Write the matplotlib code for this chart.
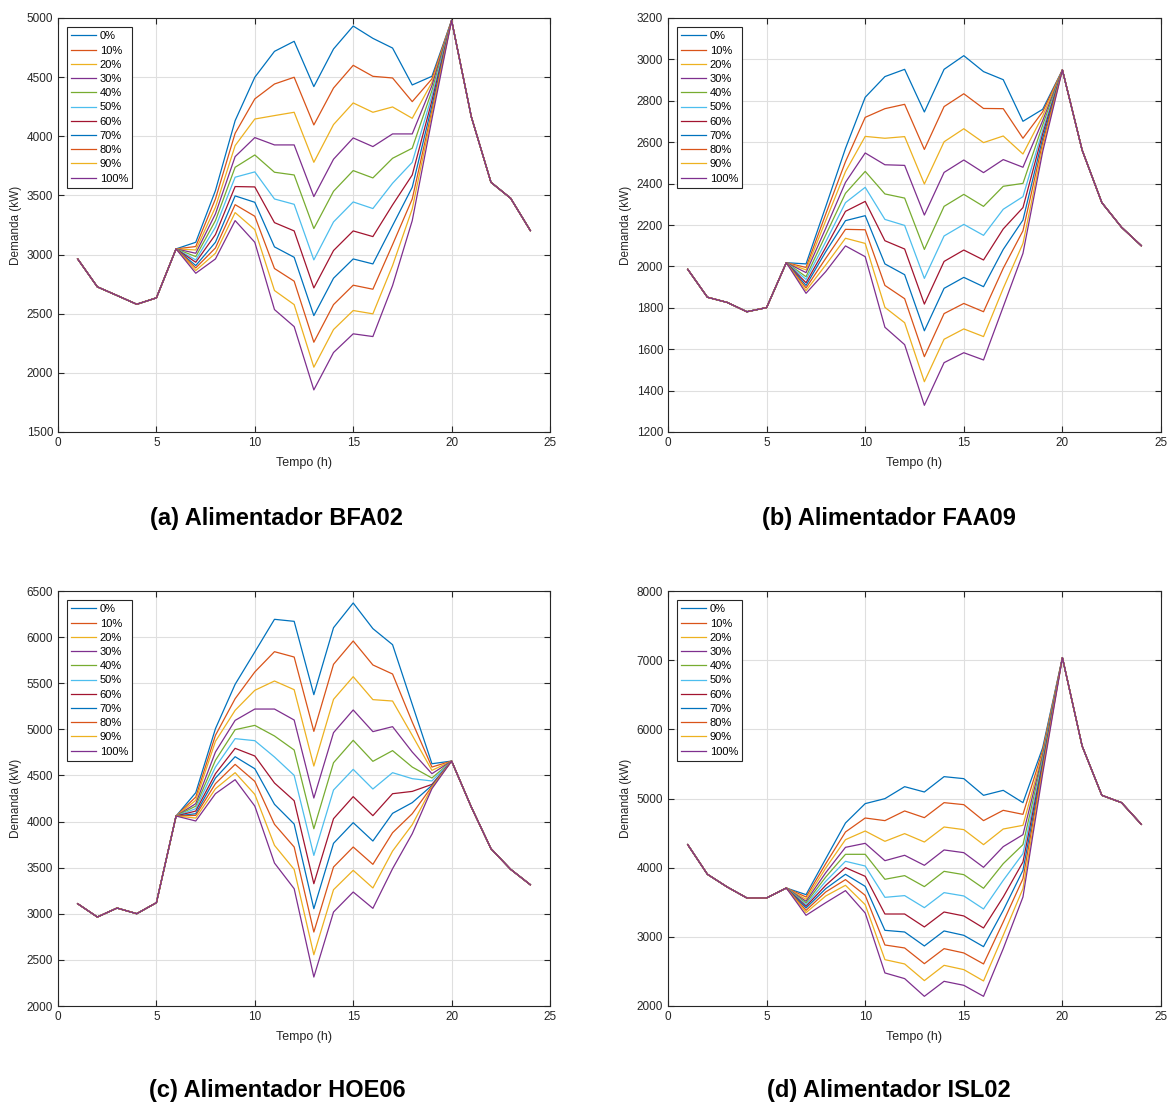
import numpy as np
import matplotlib
matplotlib.use('Agg')
from matplotlib import pyplot as plt

plt.rcParams['font.family'] = ['Liberation Sans', 'DejaVu Sans']

hours = list(range(1, 25))
levels = ['0%', '10%', '20%', '30%', '40%', '50%', '60%', '70%', '80%', '90%', '100%']
colors = ['#0072BD', '#D95319', '#EDB120', '#7E2F8E', '#77AC30', '#4DBEEE',
          '#A2142F', '#0072BD', '#D95319', '#EDB120', '#7E2F8E']

# hours 1-6 and 20-24 are the same for every level, hours 7-19 change
bfa02_head = [2963, 2727, 2654, 2580, 2634, 3048]
bfa02_tail = [4980, 4166, 3611, 3476, 3203]
bfa02_mid = [
    [3104, 3541, 4132, 4499, 4718, 4803, 4420, 4738, 4932, 4828, 4746, 4434, 4507],
    [3068, 3470, 4025, 4316, 4442, 4499, 4096, 4408, 4600, 4507, 4493, 4293, 4485],
    [3039, 3400, 3921, 4146, 4175, 4203, 3780, 4099, 4282, 4203, 4248, 4152, 4456],
    [3011, 3344, 3828, 3989, 3927, 3927, 3490, 3806, 3986, 3913, 4020, 4020, 4428],
    [2983, 3287, 3738, 3842, 3696, 3673, 3220, 3535, 3710, 3648, 3814, 3899, 4386],
    [2955, 3231, 3654, 3699, 3470, 3425, 2955, 3276, 3445, 3389, 3603, 3780, 4344],
    [2935, 3169, 3575, 3572, 3270, 3200, 2718, 3034, 3200, 3152, 3420, 3673, 4301],
    [2907, 3104, 3496, 3442, 3065, 2977, 2484, 2800, 2963, 2921, 3245, 3569, 4259],
    [2887, 3056, 3422, 3324, 2882, 2775, 2259, 2577, 2741, 2707, 3084, 3470, 4217],
    [2865, 3011, 3355, 3211, 2696, 2577, 2048, 2366, 2527, 2499, 2907, 3386, 4189],
    [2842, 2963, 3287, 3104, 2535, 2391, 1856, 2172, 2330, 2307, 2738, 3287, 4146],
]

faa09_head = [1986, 1851, 1826, 1781, 1801, 2018]
faa09_tail = [2949, 2562, 2308, 2189, 2100]
faa09_mid = [
    [2012, 2289, 2570, 2817, 2917, 2952, 2746, 2952, 3018, 2941, 2902, 2701, 2759],
    [1995, 2253, 2506, 2720, 2762, 2783, 2565, 2772, 2834, 2763, 2762, 2619, 2747],
    [1983, 2221, 2458, 2628, 2619, 2627, 2398, 2602, 2665, 2598, 2630, 2543, 2727],
    [1970, 2184, 2406, 2548, 2491, 2488, 2248, 2454, 2514, 2453, 2516, 2479, 2704],
    [1950, 2152, 2353, 2459, 2350, 2330, 2082, 2290, 2348, 2290, 2387, 2401, 2683],
    [1937, 2119, 2308, 2382, 2227, 2198, 1942, 2147, 2203, 2150, 2276, 2337, 2659],
    [1921, 2092, 2266, 2314, 2124, 2084, 1818, 2024, 2079, 2031, 2181, 2284, 2640],
    [1908, 2071, 2221, 2245, 2012, 1960, 1689, 1894, 1947, 1902, 2082, 2224, 2619],
    [1896, 2039, 2179, 2177, 1908, 1844, 1564, 1772, 1821, 1781, 1991, 2172, 2598],
    [1883, 2007, 2136, 2111, 1802, 1728, 1443, 1648, 1698, 1661, 1894, 2111, 2575],
    [1870, 1975, 2099, 2047, 1706, 1622, 1329, 1535, 1583, 1548, 1805, 2063, 2554],
]

hoe06_head = [3109, 2965, 3062, 3001, 3120, 4060]
hoe06_tail = [4656, 4158, 3706, 3482, 3315]
hoe06_mid = [
    [4313, 5007, 5488, 5839, 6193, 6171, 5376, 6102, 6370, 6092, 5918, 5271, 4627],
    [4266, 4935, 5332, 5622, 5842, 5784, 4978, 5705, 5958, 5698, 5600, 5079, 4591],
    [4230, 4870, 5206, 5423, 5524, 5430, 4602, 5325, 5571, 5322, 5307, 4935, 4555],
    [4194, 4754, 5097, 5220, 5220, 5101, 4255, 4964, 5210, 4975, 5029, 4754, 4519],
    [4168, 4664, 4996, 5043, 4928, 4776, 3922, 4638, 4881, 4653, 4769, 4591, 4472],
    [4140, 4591, 4899, 4877, 4700, 4501, 3633, 4342, 4566, 4353, 4530, 4465, 4440],
    [4114, 4519, 4794, 4711, 4418, 4226, 3326, 4031, 4270, 4064, 4302, 4327, 4403],
    [4085, 4472, 4703, 4573, 4187, 3973, 3055, 3764, 3988, 3789, 4089, 4205, 4392],
    [4067, 4411, 4620, 4436, 3970, 3724, 2802, 3507, 3724, 3536, 3879, 4085, 4381],
    [4038, 4356, 4530, 4295, 3742, 3481, 2556, 3261, 3471, 3280, 3680, 3966, 4371],
    [4006, 4302, 4454, 4168, 3550, 3272, 2314, 3019, 3236, 3059, 3489, 3868, 4356],
]

isl02_head = [4333, 3904, 3721, 3562, 3562, 3706]
isl02_tail = [7036, 5759, 5046, 4940, 4627]
isl02_mid = [
    [3610, 4130, 4646, 4926, 4998, 5171, 5094, 5316, 5287, 5046, 5118, 4940, 5735],
    [3576, 4058, 4516, 4718, 4680, 4820, 4723, 4940, 4911, 4680, 4829, 4771, 5697],
    [3543, 3995, 4405, 4530, 4381, 4492, 4371, 4588, 4550, 4333, 4559, 4612, 5658],
    [3514, 3928, 4294, 4352, 4101, 4179, 4034, 4256, 4217, 4005, 4304, 4477, 5624],
    [3489, 3865, 4193, 4193, 3832, 3885, 3726, 3947, 3899, 3702, 4058, 4333, 5591],
    [3465, 3803, 4092, 4024, 3571, 3596, 3422, 3639, 3591, 3403, 3817, 4203, 5552],
    [3441, 3745, 4000, 3875, 3330, 3330, 3143, 3359, 3302, 3128, 3576, 4082, 5513],
    [3417, 3697, 3904, 3730, 3094, 3070, 2868, 3085, 3022, 2858, 3383, 3962, 5480],
    [3383, 3649, 3827, 3600, 2882, 2839, 2612, 2829, 2767, 2608, 3215, 3841, 5441],
    [3350, 3591, 3745, 3465, 2670, 2608, 2367, 2588, 2526, 2362, 3022, 3697, 5403],
    [3311, 3494, 3668, 3345, 2478, 2396, 2140, 2357, 2299, 2140, 2829, 3576, 5359],
]

titles = ['(a) Alimentador BFA02', '(b) Alimentador FAA09',
          '(c) Alimentador HOE06', '(d) Alimentador ISL02']
ylims = [(1500, 5000, 500), (1200, 3200, 200), (2000, 6500, 500), (2000, 8000, 1000)]

W, H = 1168, 1104
boxes = [(58, 18, 550, 432), (668, 18, 1161, 432),
         (58, 591, 550, 1006), (668, 591, 1161, 1006)]
title_pos = [(277, 518), (889, 518), (277, 1090), (889, 1090)]
ink = '#262626'


def plot_panel(fig, box, head, mid, tail, ylim, title, tpos):
    x0, y0, x1, y1 = box
    ax = fig.add_axes([x0 / W, 1 - y1 / H, (x1 - x0) / W, (y1 - y0) / H])
    for i, lev in enumerate(levels):
        ax.plot(hours, head + mid[i] + tail, color=colors[i], lw=0.9, label=lev)
    lo, hi, step = ylim
    ax.set_xlim(0, 25)
    ax.set_ylim(lo, hi)
    ax.set_xticks(np.arange(0, 26, 5))
    ax.set_yticks(np.arange(lo, hi + 1, step))
    ax.grid(True, color='#dfdfdf', lw=0.8)
    ax.set_axisbelow(True)
    ax.tick_params(direction='in', top=True, right=True, labelsize=8.5,
                   colors=ink, length=4, width=0.8)
    for s in ax.spines.values():
        s.set_color(ink)
        s.set_linewidth(0.8)
    ax.set_xlabel('Tempo (h)', fontsize=9, color=ink, labelpad=6)
    ax.set_ylabel('Demanda (kW)', fontsize=8.5, color=ink, labelpad=3)
    leg = ax.legend(loc='upper left', fontsize=8, fancybox=False,
                    edgecolor=ink, framealpha=1, labelspacing=0.38,
                    handlelength=2.25, handletextpad=0.3, borderpad=0.4,
                    borderaxespad=0.8)
    leg.get_frame().set_linewidth(0.8)
    fig.text(tpos[0] / W, 1 - tpos[1] / H, title, ha='center', va='center',
             fontsize=17, fontweight='bold')
    return ax


fig = plt.figure(figsize=(W / 100, H / 100), dpi=100)
data = [(bfa02_head, bfa02_mid, bfa02_tail), (faa09_head, faa09_mid, faa09_tail),
        (hoe06_head, hoe06_mid, hoe06_tail), (isl02_head, isl02_mid, isl02_tail)]
for k in range(4):
    head, mid, tail = data[k]
    plot_panel(fig, boxes[k], head, mid, tail, ylims[k], titles[k], title_pos[k])

fig.savefig('out.png', dpi=100)
